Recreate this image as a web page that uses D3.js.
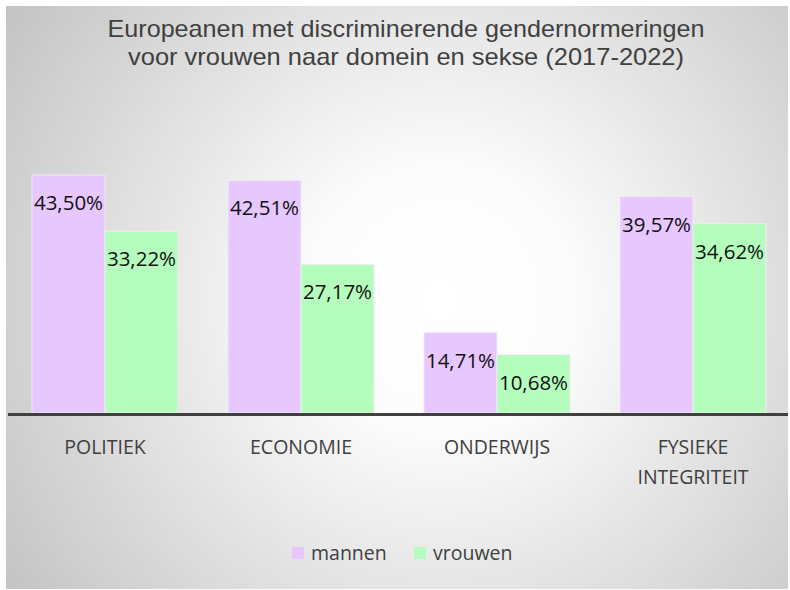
<!DOCTYPE html>
<html>
<head>
<meta charset="utf-8">
<script src="https://cdn.jsdelivr.net/npm/d3@7"></script>
<style>
  body { margin: 0; background: #fff; }
</style>
</head>
<body>
<div id="chart"></div>
<script>
const categories = [['POLITIEK'], ['ECONOMIE'], ['ONDERWIJS'], ['FYSIEKE', 'INTEGRITEIT']]
const seriesNames = ['mannen', 'vrouwen']
const mannen = [43.50, 42.51, 14.71, 39.57]
const vrouwen = [33.22, 27.17, 10.68, 34.62]
const titleLines = ['Europeanen met discriminerende gendernormeringen', 'voor vrouwen naar domein en sekse (2017-2022)']

const colors = { mannen: '#e6c7fe', vrouwen: '#b4fdbc' }

const width = 790
const height = 590
const frame = { x: 6, y: 6, w: 782, h: 583 }
const plot = { left: 7, right: 791, top: 139.5, bottom: 413 }

const svg = d3.select('#chart')
  .append('svg')
  .attr('width', width)
  .attr('height', height)

// background gradient
const defs = svg.append('defs')
const grad = defs.append('radialGradient')
  .attr('id', 'bg')
  .attr('gradientUnits', 'userSpaceOnUse')
  .attr('cx', 440)
  .attr('cy', 300)
  .attr('r', 520)
grad.append('stop').attr('offset', '0%').attr('stop-color', '#ffffff')
grad.append('stop').attr('offset', '25%').attr('stop-color', '#fcfcfc')
grad.append('stop').attr('offset', '100%').attr('stop-color', '#c4c4c4')

svg.append('rect')
  .attr('x', frame.x)
  .attr('y', frame.y)
  .attr('width', frame.w)
  .attr('height', frame.h)
  .attr('fill', 'url(#bg)')

// title (condensed look via textLength)
const titleWidths = [597, 556]
svg.append('g')
  .attr('font-family', '"Liberation Sans", Arial, sans-serif')
  .attr('font-size', '24px')
  .attr('fill', '#404040')
  .selectAll('text')
  .data(titleLines)
  .enter()
  .append('text')
  .attr('text-anchor', 'middle')
  .attr('x', 406)
  .attr('y', (d, i) => 37 + i * 28)
  .attr('textLength', (d, i) => titleWidths[i])
  .attr('lengthAdjust', 'spacingAndGlyphs')
  .text(d => d)

const rows = categories.map((c, i) => ({ cat: c, mannen: mannen[i], vrouwen: vrouwen[i] }))
const catKey = d => d.cat.join(' ')

const x0 = d3.scaleBand()
  .domain(rows.map(catKey))
  .range([plot.left, plot.right])
  .paddingInner(0.255)
  .paddingOuter(0.1275)

const x1 = d3.scaleBand()
  .domain(seriesNames)
  .range([0, x0.bandwidth()])

const y = d3.scaleLinear()
  .domain([0, 50])
  .range([plot.bottom, plot.top])

const groups = svg.selectAll('.grp')
  .data(rows)
  .enter()
  .append('g')
  .attr('class', 'grp')
  .attr('transform', d => `translate(${x0(catKey(d))},0)`)

const bars = groups.selectAll('.bar')
  .data(d => seriesNames.map(s => ({ s, v: d[s] })))
  .enter()

bars.append('rect')
  .attr('class', 'bar')
  .attr('x', d => x1(d.s))
  .attr('y', d => y(d.v))
  .attr('width', x1.bandwidth())
  .attr('height', d => y(0) - y(d.v))
  .attr('fill', d => colors[d.s])
  .attr('stroke', '#f2eaf6')
  .attr('stroke-width', 1)

bars.append('text')
  .attr('x', d => x1(d.s) + x1.bandwidth() / 2)
  .attr('y', d => y(d.v) + 35)
  .attr('text-anchor', 'middle')
  .attr('font-family', '"Open Sans", sans-serif')
  .attr('font-size', '20.5px')
  .attr('fill', '#111')
  .text(d => d3.format('.2f')(d.v).replace('.', ',') + '%')

// baseline axis
const xAxis = d3.axisBottom(x0).tickSize(0).tickFormat('')
const axisG = svg.append('g')
  .attr('transform', `translate(0,${plot.bottom + 1.5})`)
  .call(xAxis)
axisG.select('.domain')
  .attr('stroke', '#404040')
  .attr('stroke-width', 3)
  .attr('d', `M8,0H788`)

// category labels
axisG.selectAll('.tick').each(function (d, i) {
  const t = d3.select(this).append('text')
    .attr('text-anchor', 'middle')
    .attr('font-family', '"Open Sans", sans-serif')
    .attr('font-size', '19.5px')
    .attr('fill', '#404040')
  categories[i].forEach((line, j) => {
    t.append('tspan')
      .attr('x', 0)
      .attr('y', 39 + j * 30)
      .text(line)
  })
})

// legend
const legend = svg.append('g')
  .attr('font-family', '"Open Sans", sans-serif')
  .attr('font-size', '19.5px')
  .attr('fill', '#404040')
const legX = [292, 414]
seriesNames.forEach((s, i) => {
  legend.append('rect')
    .attr('x', legX[i])
    .attr('y', 547)
    .attr('width', 12)
    .attr('height', 12)
    .attr('fill', colors[s])
  legend.append('text')
    .attr('x', legX[i] + 19)
    .attr('y', 560)
    .text(s)
})
</script>
</body>
</html>
